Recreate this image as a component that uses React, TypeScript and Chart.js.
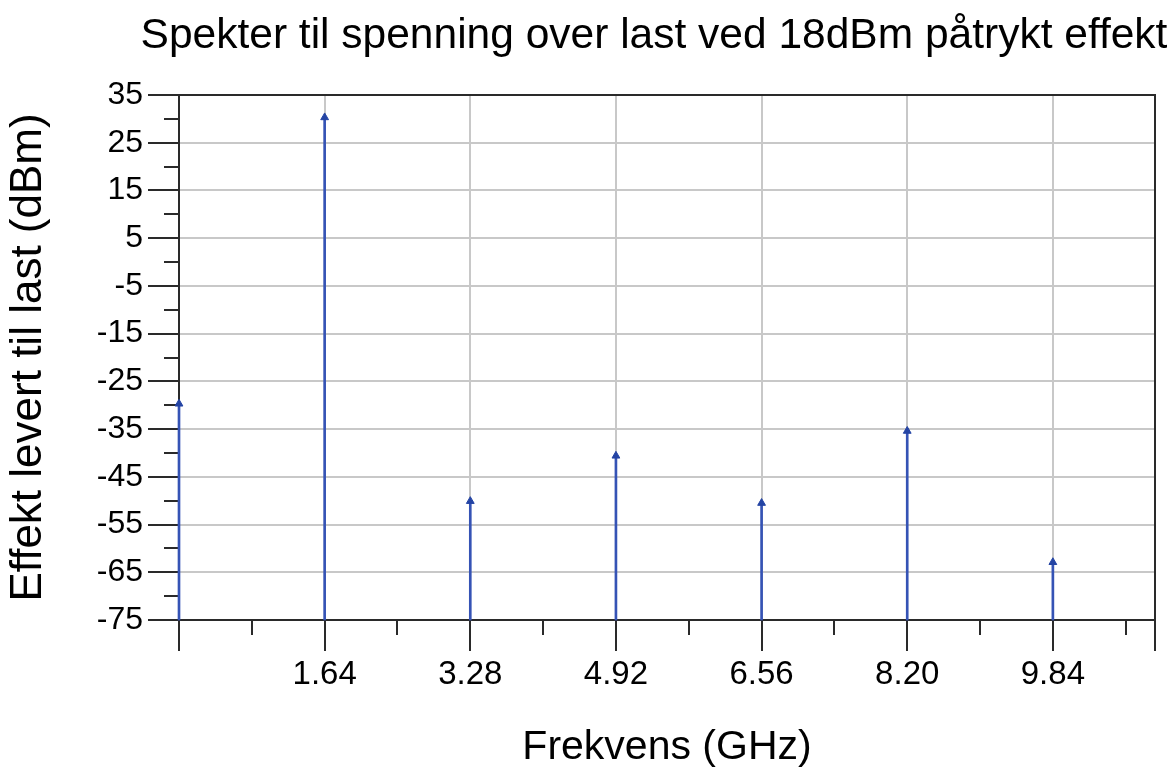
import React, { useEffect, useRef } from 'react';
import { Chart, registerables } from 'chart.js';

Chart.register(...registerables);

// ---- data ----
const FREQS_GHZ = [0, 1.64, 3.28, 4.92, 6.56, 8.2, 9.84];
const POWER_DBM = [-29.7, 30.3, -50.1, -40.6, -50.5, -35.4, -62.9];

// ---- axes ----
const X_MIN = 0;
const X_MAX = 10.99;
const X_MINOR_STEP = 0.82;
const X_MAJOR_STEP = 1.64;
const X_TICK_LABELS = ['1.64', '3.28', '4.92', '6.56', '8.20', '9.84'];
const Y_MIN = -75;
const Y_MAX = 35;
const Y_STEP = 5;
const Y_TICK_LABELS = [35, 25, 15, 5, -5, -15, -25, -35, -45, -55, -65, -75];

const TITLE = 'Spekter til spenning over last ved 18dBm påtrykt effekt';
const X_TITLE = 'Frekvens (GHz)';
const Y_TITLE = 'Effekt levert til last (dBm)';

const FONT = '"Liberation Sans", Arial, Helvetica, sans-serif';
const AXIS_COLOR = '#2a2a2a';
const GRID_COLOR = '#c8c8c8';
const STEM_COLOR = '#3553b5';
const MARKER_COLOR = '#2444a4';

const near = (a: number, b: number) => Math.abs(a - b) < 1e-6;
const isMajorX = (v: number) =>
  near(v, X_MAX) || near(v / X_MAJOR_STEP, Math.round(v / X_MAJOR_STEP));
const isInnerMajorX = (v: number) => isMajorX(v) && v > X_MIN + 1e-6 && !near(v, X_MAX);
const xLabelFor = (v: number) => X_TICK_LABELS.find((l) => near(parseFloat(l), v)) ?? '';
const isYLabel = (v: number) => Y_TICK_LABELS.some((l) => near(l, v));

const frameAndMinorTicks = {
  id: 'frameAndMinorTicks',
  beforeDatasetsDraw(chart: any) {
    const { ctx, chartArea } = chart;
    const { left, right, top, bottom } = chartArea;
    const xs = chart.scales.x;
    const ys = chart.scales.y;
    ctx.save();
    ctx.strokeStyle = AXIS_COLOR;
    ctx.lineWidth = 2;
    const line = (x1: number, y1: number, x2: number, y2: number) => {
      ctx.beginPath();
      ctx.moveTo(x1, y1);
      ctx.lineTo(x2, y2);
      ctx.stroke();
    };
    xs.ticks.forEach((t: any) => {
      if (!isMajorX(t.value)) {
        const px = Math.round(xs.getPixelForValue(t.value));
        line(px, bottom, px, bottom + 15);
      }
    });
    ys.ticks.forEach((t: any) => {
      if (!isYLabel(t.value)) {
        const py = Math.round(ys.getPixelForValue(t.value));
        line(left - 15, py, left, py);
      }
    });
    line(left - 1, top, right + 1, top);
    line(right, top, right, bottom);
    ctx.restore();
  },
  afterDraw(chart: any) {
    const { ctx } = chart;
    ctx.save();
    ctx.fillStyle = '#000';
    ctx.font = `42.5px ${FONT}`;
    ctx.textAlign = 'center';
    ctx.textBaseline = 'middle';
    ctx.fillText(TITLE, 654, 36);
    ctx.restore();
  },
};

export default function App() {
  const canvasRef = useRef<HTMLCanvasElement | null>(null);

  useEffect(() => {
    if (!canvasRef.current) return;
    const stems = FREQS_GHZ.map((f, i) => ({ x: f, y: [Y_MIN, POWER_DBM[i]] }));
    const points = FREQS_GHZ.map((f, i) => ({ x: f, y: POWER_DBM[i] }));

    const chart = new Chart(canvasRef.current, {
      type: 'bar',
      data: {
        datasets: [
          {
            type: 'scatter',
            label: 'markers',
            data: points,
            pointStyle: 'triangle',
            pointRadius: 4.5,
            backgroundColor: MARKER_COLOR,
            borderColor: MARKER_COLOR,
            borderWidth: 1,
            clip: false,
            order: 0,
          } as any,
          {
            type: 'bar',
            label: 'stems',
            data: stems as any,
            backgroundColor: STEM_COLOR,
            borderWidth: 0,
            barThickness: 2,
            grouped: false,
            clip: false,
            order: 1,
          } as any,
        ],
      },
      plugins: [frameAndMinorTicks],
      options: {
        responsive: false,
        animation: false,
        devicePixelRatio: 1,
        layout: { padding: { top: 95, right: 21, left: 0, bottom: 0 } },
        plugins: {
          legend: { display: false },
          tooltip: { enabled: false },
          title: { display: false },
        },
        scales: {
          x: {
            type: 'linear',
            min: X_MIN,
            max: X_MAX,
            offset: false,
            afterBuildTicks: (scale: any) => {
              const ticks: any[] = [];
              for (let k = 0; k * X_MINOR_STEP <= X_MAX; k++) {
                ticks.push({ value: Math.round(k * X_MINOR_STEP * 100) / 100 });
              }
              ticks.push({ value: X_MAX });
              scale.ticks = ticks;
            },
            afterFit: (scale: any) => {
              scale.height = 156;
            },
            ticks: {
              autoSkip: false,
              maxRotation: 0,
              padding: 4,
              color: '#000',
              font: { family: FONT, size: 33 },
              callback: (v: any) => xLabelFor(Number(v)),
            },
            grid: {
              offset: false,
              drawOnChartArea: true,
              drawTicks: true,
              tickLength: 31,
              lineWidth: 2,
              color: (c: any) => (c.tick && isInnerMajorX(c.tick.value) ? GRID_COLOR : 'rgba(0,0,0,0)'),
              tickColor: (c: any) => (c.tick && isMajorX(c.tick.value) ? AXIS_COLOR : 'rgba(0,0,0,0)'),
              tickWidth: 2,
            },
            border: { display: true, color: AXIS_COLOR, width: 2 },
            title: {
              display: true,
              text: X_TITLE,
              color: '#000',
              font: { family: FONT, size: 41 },
              padding: { top: 4, bottom: 4 },
            },
          },
          y: {
            type: 'linear',
            min: Y_MIN,
            max: Y_MAX,
            afterFit: (scale: any) => {
              scale.width = 179;
            },
            ticks: {
              stepSize: Y_STEP,
              autoSkip: false,
              padding: 5,
              color: '#000',
              font: { family: FONT, size: 32 },
              callback: (v: any) => (isYLabel(Number(v)) ? String(v) : ''),
            },
            grid: {
              drawTicks: true,
              tickLength: 31,
              lineWidth: 2,
              color: (c: any) =>
                c.tick && isYLabel(c.tick.value) && c.tick.value > Y_MIN && c.tick.value < Y_MAX
                  ? GRID_COLOR
                  : 'rgba(0,0,0,0)',
              tickColor: (c: any) => (c.tick && isYLabel(c.tick.value) ? AXIS_COLOR : 'rgba(0,0,0,0)'),
              tickWidth: 2,
            },
            border: { display: true, color: AXIS_COLOR, width: 2 },
            title: {
              display: true,
              text: Y_TITLE,
              color: '#000',
              font: { family: FONT, size: 44 },
              padding: { top: 2, bottom: 0 },
            },
          },
        },
      } as any,
    });
    return () => chart.destroy();
  }, []);

  return (
    <div style={{ position: 'fixed', left: 0, top: 0, width: 1176, height: 776, background: '#fff' }}>
      <canvas ref={canvasRef} width={1176} height={776} style={{ width: 1176, height: 776 }} />
    </div>
  );
}
